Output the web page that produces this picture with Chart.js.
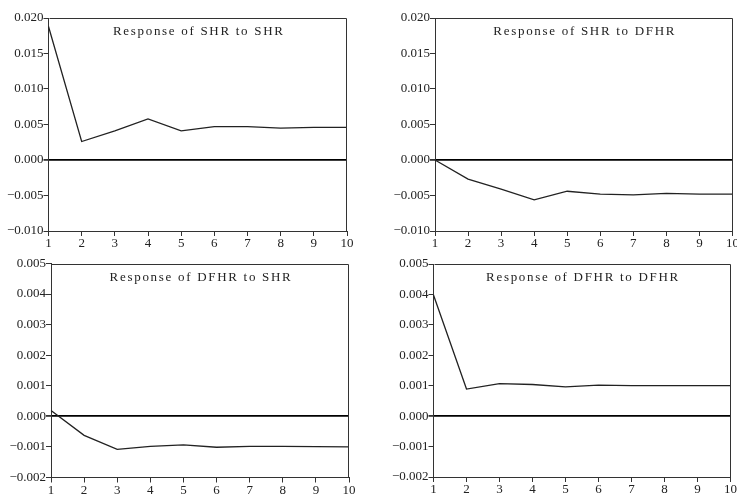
<!DOCTYPE html>
<html>
<head>
<meta charset="utf-8">
<script src="https://cdn.jsdelivr.net/npm/chart.js@4/dist/chart.umd.min.js"></script>
<style>
  html, body { margin: 0; padding: 0; background: #fff; width: 737px; height: 495px; overflow: hidden; position: relative; }
  canvas { position: absolute; }
</style>
</head>
<body>
<canvas id="c1" width="370" height="248" style="left:0px;top:0px;width:370px;height:248px"></canvas>
<canvas id="c2" width="380" height="248" style="left:370px;top:0px;width:380px;height:248px"></canvas>
<canvas id="c3" width="370" height="245" style="left:0px;top:250px;width:370px;height:245px"></canvas>
<canvas id="c4" width="380" height="245" style="left:370px;top:250px;width:380px;height:245px"></canvas>
<script>
// ---- data ----
const periods = ['1','2','3','4','5','6','7','8','9','10'];
const titles = ['Response of SHR to SHR', 'Response of SHR to DFHR', 'Response of DFHR to SHR', 'Response of DFHR to DFHR'];
const shrToShr   = [0.0188, 0.0026, 0.0041, 0.0058, 0.0041, 0.0047, 0.0047, 0.0045, 0.0046, 0.0046];
const shrToDfhr  = [0.0000, -0.0027, -0.0041, -0.0056, -0.0044, -0.0048, -0.0049, -0.0047, -0.0048, -0.0048];
const dfhrToShr  = [0.00019, -0.00062, -0.00108, -0.00098, -0.00093, -0.00101, -0.00098, -0.00098, -0.00099, -0.00100];
const dfhrToDfhr = [0.00398, 0.00089, 0.00107, 0.00104, 0.00096, 0.00102, 0.00100, 0.00100, 0.00100, 0.00100];
const topRowRange = { min: -0.010, max: 0.020, step: 0.005 };
const bottomRowRange = { min: -0.002, max: 0.005, step: 0.001 };

const FONT = "'Liberation Serif', 'Times New Roman', serif";
const AXIS = '#333';

const framePlugin = {
  id: 'frameAndTitle',
  afterDraw(chart) {
    const { ctx, chartArea: a } = chart;
    ctx.save();
    ctx.strokeStyle = AXIS;
    ctx.lineWidth = 1;
    ctx.beginPath();
    ctx.moveTo(Math.round(a.left) + 0.5, Math.round(a.top) + 0.5);
    ctx.lineTo(Math.round(a.right) - 0.5, Math.round(a.top) + 0.5);
    ctx.lineTo(Math.round(a.right) - 0.5, Math.round(a.bottom));
    ctx.stroke();
    const t = chart.options.plugins.frameAndTitle.text;
    ctx.fillStyle = '#222';
    ctx.font = '13px ' + FONT;
    ctx.letterSpacing = '1.7px';
    ctx.textAlign = 'center';
    ctx.textBaseline = 'middle';
    ctx.fillText(t, (a.left + a.right) / 2 + 1, a.top + 14);
    ctx.restore();
  }
};

function fmt(v) {
  if (Math.abs(v) < 1e-9) v = 0;
  return (v < 0 ? '\u2212' : '') + Math.abs(v).toFixed(3);
}

function makeChart(id, values, title, range, layout) {
  new Chart(document.getElementById(id), {
    type: 'line',
    data: {
      labels: periods,
      datasets: [{
        data: values,
        borderColor: '#222',
        borderWidth: 1.3,
        pointRadius: 0,
        tension: 0,
        fill: false
      }]
    },
    options: {
      responsive: false,
      animation: false,
      devicePixelRatio: 1,
      layout: { padding: { left: 0, top: layout.top, right: layout.right, bottom: 0 } },
      plugins: {
        legend: { display: false },
        tooltip: { enabled: false },
        frameAndTitle: { text: title }
      },
      scales: {
        x: {
          type: 'category',
          offset: false,
          grid: { drawOnChartArea: false, drawTicks: true, tickLength: 5, tickColor: AXIS, color: AXIS },
          border: { display: true, color: AXIS, width: 1 },
          ticks: { color: '#222', font: { family: FONT, size: 13 }, padding: 0, maxRotation: 0, autoSkip: false },
          afterFit: s => { s.height = layout.xh; }
        },
        y: {
          min: range.min,
          max: range.max,
          grid: {
            drawOnChartArea: true,
            drawTicks: true,
            tickLength: 5,
            tickColor: AXIS,
            color: c => (c.tick && Math.abs(c.tick.value) < 1e-9) ? '#000' : 'rgba(0,0,0,0)',
            lineWidth: c => (c.tick && Math.abs(c.tick.value) < 1e-9) ? 1.8 : 1
          },
          border: { display: true, color: AXIS, width: 1 },
          ticks: { stepSize: range.step, color: '#222', font: { family: FONT, size: 13 }, padding: 0, callback: v => fmt(v) },
          afterFit: s => { s.width = layout.yw; }
        }
      }
    },
    plugins: [framePlugin]
  });
}

makeChart('c1', shrToShr,   titles[0], topRowRange,    { top: 18,   right: 23,   yw: 48.5, xh: 17 });
makeChart('c2', shrToDfhr,  titles[1], topRowRange,    { top: 18,   right: 17.5, yw: 65,   xh: 17 });
makeChart('c3', dfhrToShr,  titles[2], bottomRowRange, { top: 13.5, right: 21,   yw: 51,   xh: 17.5 });
makeChart('c4', dfhrToDfhr, titles[3], bottomRowRange, { top: 14,   right: 19.5, yw: 63.5, xh: 18 });
</script>
</body>
</html>
